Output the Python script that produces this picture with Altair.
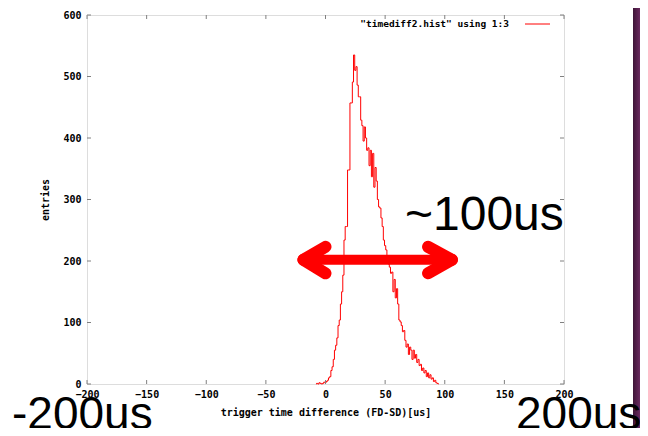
import altair as alt
import pandas as pd

# ---- data ----
bin_us = list(range(-8, 96))
entries = [
    0, 1, 0, 2, 1, 0, 1, 3,            # -8 .. -1
    2, 4, 6, 10, 12, 22, 28, 40, 55, 63,  # 0 .. 9
    75, 95, 104, 130, 150, 177, 234, 256, 256, 348,  # 10 .. 19
    348, 457, 457, 491, 535, 510, 516, 486, 467, 467,  # 20 .. 29
    429, 420, 395, 418, 400, 380, 384, 355, 380, 337,  # 30 .. 39
    375, 320, 352, 330, 300, 288, 286, 270, 256, 234,  # 40 .. 49
    225, 218, 200, 195, 190, 180, 182, 150, 170, 140,  # 50 .. 59
    155, 130, 104, 101, 95, 85, 87, 71, 60, 65,        # 60 .. 69
    48, 60, 55, 40, 55, 42, 48, 35, 40, 30,            # 70 .. 79
    32, 22, 26, 18, 22, 12, 18, 10, 15, 8,             # 80 .. 89
    10, 4, 6, 2, 1, 0,                                 # 90 .. 95
]
x_ticks = [-200, -150, -100, -50, 0, 50, 100, 150, 200]
y_ticks = [0, 100, 200, 300, 400, 500, 600]

legend_label = '"timediff2.hist" using 1:3'
x_title = "trigger time difference (FD-SD)[us]"
y_title = "entries"

# arrow annotation (data coordinates)
arrow_x = [-18.5, 106]
arrow_y = 202
arrow_arm_x = [0, 86]
arrow_arm_y = [223, 180]

W, H = 477, 369
MONO = "DejaVu Sans Mono"
GRAY = "#808080"

hist = pd.DataFrame({"us": bin_us, "entries": entries})

xs = alt.Scale(domain=[-200, 200], nice=False)
ys = alt.Scale(domain=[0, 600], nice=False)

line = alt.Chart(hist).mark_line(interpolate="step", color="#ff0000", strokeWidth=1).encode(
    x=alt.X("us:Q", scale=xs, title=x_title,
            axis=alt.Axis(values=x_ticks, tickSize=0, domain=False, grid=False,
                          labelFont=MONO, labelFontWeight="bold", labelFontSize=10,
                          labelColor="black", labelPadding=5, titleFont=MONO,
                          titleFontWeight="bold", titleFontSize=10, titlePadding=8,
                          titleColor="black", labelFlush=False)),
    y=alt.Y("entries:Q", scale=ys, title=y_title,
            axis=alt.Axis(values=y_ticks, tickSize=0, domain=False, grid=False,
                          labelFont=MONO, labelFontWeight="bold", labelFontSize=10,
                          labelColor="black", labelPadding=6, titleFont=MONO,
                          titleFontWeight="bold", titleFontSize=10, titlePadding=12,
                          titleColor="black", labelFlush=False)),
)

xt = pd.DataFrame({"v": x_ticks})
yt = pd.DataFrame({"v": y_ticks})
bottom_ticks = alt.Chart(xt).mark_rule(color=GRAY).encode(
    x=alt.X("v:Q", scale=xs), y=alt.value(H), y2=alt.value(H - 4))
top_ticks = alt.Chart(xt).mark_rule(color=GRAY).encode(
    x=alt.X("v:Q", scale=xs), y=alt.value(0), y2=alt.value(4))
left_ticks = alt.Chart(yt).mark_rule(color=GRAY).encode(
    y=alt.Y("v:Q", scale=ys), x=alt.value(0), x2=alt.value(4))
right_ticks = alt.Chart(yt).mark_rule(color=GRAY).encode(
    y=alt.Y("v:Q", scale=ys), x=alt.value(W), x2=alt.value(W - 4))

# legend
legend_text = alt.Chart(pd.DataFrame({"t": [legend_label]})).mark_text(
    font=MONO, fontWeight="bold", fontSize=9.5, align="right", baseline="middle", color="black"
).encode(text="t:N", x=alt.value(422), y=alt.value(9))
legend_line = alt.Chart(pd.DataFrame({"a": [0]})).mark_rule(color="#ff0000").encode(
    x=alt.value(438), x2=alt.value(463), y=alt.value(9))

# arrow
shaft = alt.Chart(pd.DataFrame({"x": [arrow_x[0]], "x2": [arrow_x[1]], "y": [arrow_y]})).mark_rule(
    color="#ff0000", strokeWidth=10, strokeCap="round").encode(
    x=alt.X("x:Q", scale=xs), x2="x2:Q", y=alt.Y("y:Q", scale=ys))
arms = pd.DataFrame({
    "x": [arrow_x[0], arrow_x[0], arrow_x[1], arrow_x[1]],
    "y": [arrow_y] * 4,
    "x2": [arrow_arm_x[0], arrow_arm_x[0], arrow_arm_x[1], arrow_arm_x[1]],
    "y2": [arrow_arm_y[0], arrow_arm_y[1], arrow_arm_y[0], arrow_arm_y[1]],
})
arm_marks = alt.Chart(arms).mark_rule(color="#ff0000", strokeWidth=12, strokeCap="round").encode(
    x=alt.X("x:Q", scale=xs), x2="x2:Q", y=alt.Y("y:Q", scale=ys), y2="y2:Q")

big = pd.DataFrame({"t": ["~100us"]})
big_text = alt.Chart(big).mark_text(font="Liberation Sans", fontSize=48, align="left",
                                    baseline="alphabetic", color="black").encode(
    text="t:N", x=alt.value(318), y=alt.value(215))
left_big = alt.Chart(pd.DataFrame({"t": ["-200us"]})).mark_text(
    font="Liberation Sans", fontSize=46, align="left", baseline="alphabetic", color="black").encode(
    text="t:N", x=alt.value(-75), y=alt.value(414))
right_big = alt.Chart(pd.DataFrame({"t": ["200us"]})).mark_text(
    font="Liberation Sans", fontSize=46, align="left", baseline="alphabetic", color="black").encode(
    text="t:N", x=alt.value(429), y=alt.value(414))

bar = alt.Chart(pd.DataFrame({"a": [0]})).mark_rect(
    color=alt.LinearGradient(gradient="linear", x1=0, x2=1, y1=0, y2=0,
                             stops=[alt.GradientStop(color="#3e1537", offset=0),
                                    alt.GradientStop(color="#6a2a60", offset=1)])
).encode(x=alt.value(546), x2=alt.value(553), y=alt.value(-7), y2=alt.value(413))

chart = alt.layer(
    bar, line, bottom_ticks, top_ticks, left_ticks, right_ticks,
    legend_text, legend_line, shaft, arm_marks, big_text, left_big, right_big,
).properties(
    width=W, height=H,
    autosize=alt.AutoSizeParams(type="none"),
    padding={"left": 79, "top": 7, "right": 76, "bottom": 44},
).configure_view(stroke=GRAY, strokeWidth=1).configure(background="white")

chart.save("out.html", embed_options={"renderer": "svg", "actions": False})
